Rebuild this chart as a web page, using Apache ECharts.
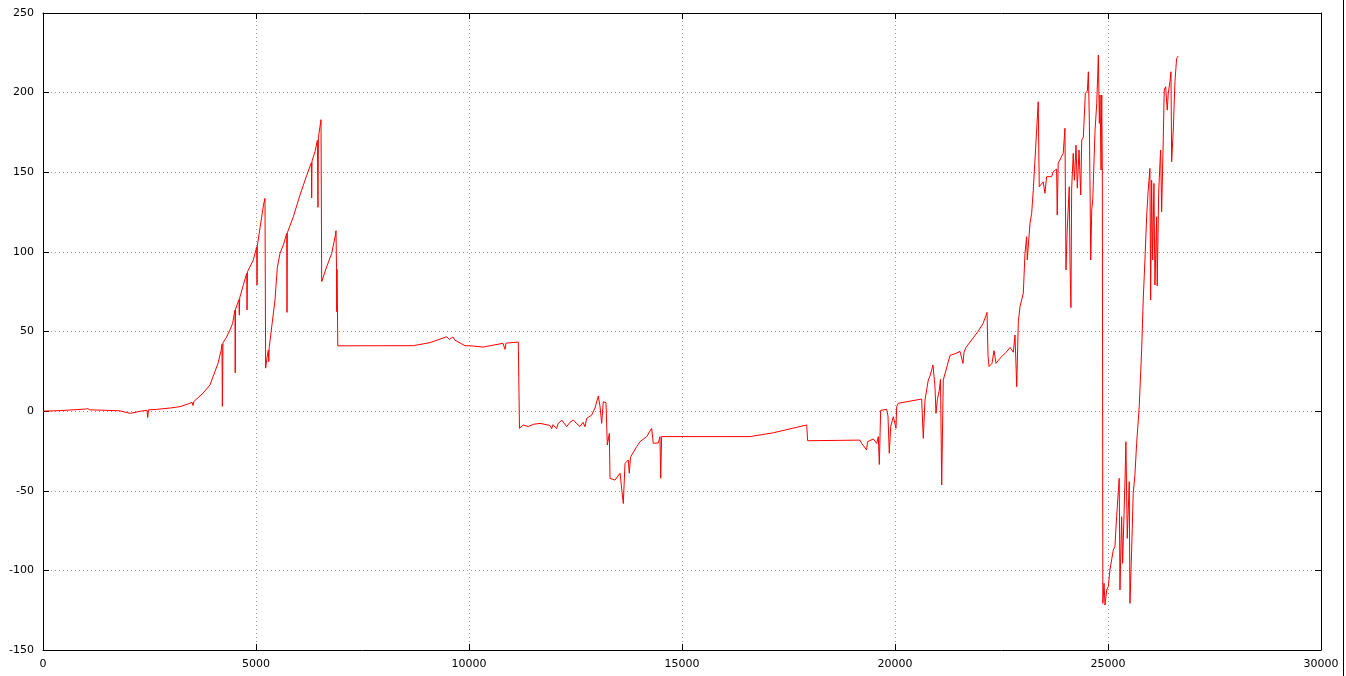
<!DOCTYPE html>
<html>
<head>
<meta charset="utf-8">
<script src="https://cdn.jsdelivr.net/npm/echarts@6/dist/echarts.min.js"></script>
<style>
html,body{margin:0;padding:0;background:#fff;}
#chart{width:1346px;height:676px;}
</style>
</head>
<body>
<div id="chart"></div>
<script>
// x positions (data units)
var xValues = [
0,400,1000,1050,1100,1500,1800,2050,2300,2440,2458,2476,2670,3000,3216,3400,3500,3521,3540,3756,3920,3991,4108,4180,4202,4210,4225,4300,4390,4450,4507,4512,4520,4600,4608,4616,4700,4782,4790,4800,4937,5016,5024,5032,5100,5134,5180,5211,5220,5226,5260,5290,5300,5310,5446,5500,5563,5650,5721,5728,5736,5876,6033,6190,6300,6307,6315,6385,6440,6455,6465,6526,6530,6542,6660,6777,6860,6878,6890,6895,6902,6920,
8692,9084,9476,9513,9540,9624,9671,9906,10094,10329,10798,10845,10870,11157,11174,11185,
11274,11392,11509,11667,11901,11941,11972,12058,12089,12176,12293,12371,12449,12535,12605,12676,12723,12763,12880,12958,13036,13075,13114,13153,13216,13247,13294,13310,13427,13545,13622,13662,13739,13763,13791,13936,14014,14171,14288,14326,14443,14483,14500,14522,
16596,17143,17927,17950,19178,19218,19335,19354,19491,19571,19608,19632,19663,19804,19835,19866,19899,19960,20023,20040,20077,20626,20664,20704,20781,20821,20892,20939,20962,20993,21040,21068,21096,21133,21220,21291,21408,21526,21596,21620,21667,21808,21948,22066,22136,22160,22183,22207,22277,22324,22371,22465,22622,22700,22778,22817,22857,22895,22934,23012,23051,23090,23105,23169,23208,23246,23325,23362,23386,23480,23520,23559,23677,23714,23794,23808,23831,23949,23989,24013,24043,24090,24107,24130,24147,24184,24212,24249,24280,24320,24360,24383,24421,24468,24515,24539,24562,24595,24618,24642,24696,24736,24774,24797,24813,24837,24853,24867,24879,
24907,24930,24970,25008,25045,25124,25163,25202,25263,25281,25320,25343,25397,25421,25452,25499,25515,25555,25592,25632,25672,25733,25790,25827,25867,25907,25944,25984,26001,26024,26048,26078,26102,26142,26156,26189,26219,26236,26259,26297,26320,26353,26391,26414,26454,26478,26494,26532,26572,26611,26650
];
// series values
var yValues = [
0,0.3,1.3,1.6,0.8,0.5,0.2,-1.4,0,0.5,-4,0.8,1.1,2,2.8,4.5,5.5,3.5,6,11.3,16.4,21.6,30,38,42,3,43,46,51,55,63.5,24,64,70,60.3,71,79,86.5,63.5,87.5,94.9,103.2,79.2,104,116,122,130,133.6,134,27,34,38.4,31,40,69.8,90,99,105,111.6,62,112,122,135.7,148,156,133.8,157,163,170,128,172,183,182,81.3,90.7,99,110,113.3,90,62.4,89,41,
41.1,43,46.7,47.8,45,46.5,44.5,41.1,40.9,40.2,42.6,38.8,42.7,43.4,43.6,-10.8,
-8.7,-9.7,-8.3,-7.7,-9,-11,-8.5,-11,-8,-5.6,-9.7,-7,-5.6,-8,-9.7,-7,-9.8,-4.5,-2.5,2,9.5,3,-7.7,5.9,5.3,-21.3,-14,-42.2,-43.3,-39,-58,-32.8,-30.7,-39,-29,-22.3,-19.2,-16,-10.8,-20.2,-20,-16,-42.2,-16,
-16,-13.6,-8.7,-18.6,-18.2,-20.3,-24.4,-19.2,-17.5,-20.3,-16,-33.5,0.5,1.1,-3,-26.5,-9.8,-3.5,-10.8,2.8,4.9,7.6,-17.1,7,19.5,22,29,15,-1.4,7,13.2,20,-46.4,19.5,28,35,36,37.5,30,37,40,45,50,55,60,62,35,28,30,38,30,33.2,37.3,40,37,47.8,15.3,56.1,65.6,74,99,109.5,95,118,124.2,138.8,176.5,194.3,140.9,144,136.8,147.2,147.2,150.3,152,123.1,155.6,161.9,177.6,88.6,113.7,140.9,95,65,140,161.9,145,167,140,164,135.7,170.2,172,199.6,201,213.1,182.8,94.9,126.3,132.6,176.5,193.3,223.6,180.7,198.5,151.4,198.5,151.4,-120.7,
-108.1,-121.8,-112.3,-110,-99.8,-87.2,-85,-66.3,-42.2,-112.3,-66.3,-95.6,-45.3,-19.2,-79.9,-44.3,-120.7,-87.2,-51.6,-40,-20.2,2.8,38.4,69.8,94.9,122,138.8,152.4,69.8,145,94.9,143,79.2,122,78.6,136.8,155.6,164,125.2,170.2,201.6,203.7,189,199.6,206.9,213.1,156.6,176.5,207,221.5,223
];
// tick settings
var xTicks = {min: 0, max: 30000, step: 5000};
var yTicks = {min: -150, max: 250, step: 50};

var points = [];
for (var i = 0; i < xValues.length; i++) points.push([xValues[i], yValues[i]]);

var chart = echarts.init(document.getElementById('chart'), null, {renderer: 'canvas'});
var font = 'DejaVu Sans';
var gridLine = {show: true, lineStyle: {color: '#999', type: [1, 3], width: 1}};
var axisLineStyle = {show: true, onZero: false, lineStyle: {color: '#000', width: 1}};
var tickStyle = {show: true, inside: true, length: 6, lineStyle: {color: '#000', width: 1}};
var plain = function (v) { return String(v); };

chart.setOption({
  animation: false,
  backgroundColor: '#fff',
  grid: {left: 43, right: 25, top: 13, bottom: 26, containLabel: false},
  xAxis: [{
    type: 'value', min: xTicks.min, max: xTicks.max, interval: xTicks.step, position: 'bottom',
    axisLine: axisLineStyle, axisTick: tickStyle, splitLine: gridLine,
    axisLabel: {color: '#000', fontFamily: font, fontSize: 11, margin: 9, formatter: plain}
  }, {
    type: 'value', min: xTicks.min, max: xTicks.max, interval: xTicks.step, position: 'top',
    axisLine: axisLineStyle, axisTick: tickStyle, splitLine: {show: false},
    axisLabel: {show: false}
  }],
  yAxis: [{
    type: 'value', min: yTicks.min, max: yTicks.max, interval: yTicks.step, position: 'left',
    axisLine: axisLineStyle, axisTick: tickStyle, splitLine: gridLine,
    axisLabel: {color: '#000', fontFamily: font, fontSize: 11, margin: 9, formatter: plain}
  }, {
    type: 'value', min: yTicks.min, max: yTicks.max, interval: yTicks.step, position: 'right',
    axisLine: axisLineStyle, axisTick: tickStyle, splitLine: {show: false},
    axisLabel: {show: false}
  }],
  series: [{
    type: 'line', data: points, xAxisIndex: 0, yAxisIndex: 0,
    showSymbol: false, symbol: 'none', sampling: null,
    lineStyle: {color: '#ff0000', width: 1}
  }],
  graphic: [{
    type: 'line', silent: true,
    shape: {x1: 1343.5, y1: 0, x2: 1343.5, y2: 676},
    style: {stroke: '#000', lineWidth: 1}
  }]
});
</script>
</body>
</html>
